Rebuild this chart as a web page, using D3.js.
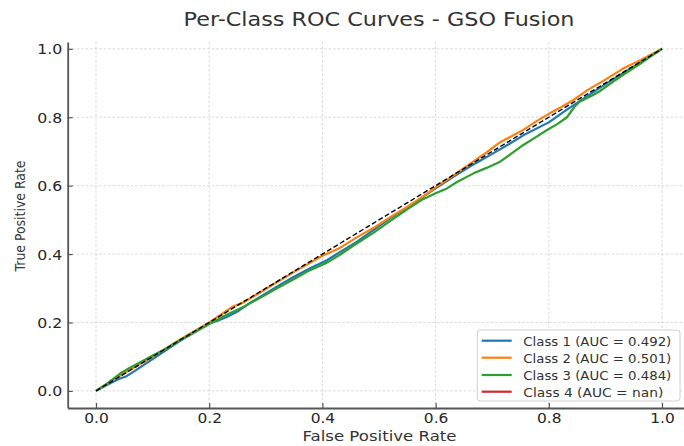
<!DOCTYPE html>
<html>
<head>
<meta charset="utf-8">
<script src="https://cdn.jsdelivr.net/npm/d3@7/dist/d3.min.js"></script>
<style>
  html, body { margin: 0; padding: 0; background: #fff; }
  svg { display: block; font-family: "DejaVu Sans", sans-serif; }
</style>
</head>
<body>
<svg id="chart" width="684" height="446"></svg>
<script>
// ---------- data ----------
const classNames = ["Class 1", "Class 2", "Class 3", "Class 4"];
const aucLabels = ["0.492", "0.501", "0.484", "nan"];
const seriesColors = ["#1f77b4", "#ff7f0e", "#2ca02c", "#d62728"];
const xTicks = [0, 0.2, 0.4, 0.6, 0.8, 1.0];
const yTicks = [0, 0.2, 0.4, 0.6, 0.8, 1.0];

const fpr1 = [0, 0.02, 0.04, 0.054, 0.07, 0.09, 0.12, 0.15, 0.2, 0.215, 0.231, 0.25, 0.27, 0.3, 0.33, 0.349, 0.38, 0.408, 0.43, 0.46, 0.49, 0.52, 0.549, 0.58, 0.6, 0.637, 0.67, 0.7, 0.73, 0.76, 0.8, 0.83, 0.85, 0.88, 0.92, 0.96, 1];
const tpr1 = [0, 0.018, 0.035, 0.043, 0.06, 0.082, 0.115, 0.148, 0.197, 0.205, 0.216, 0.232, 0.255, 0.285, 0.315, 0.333, 0.36, 0.382, 0.405, 0.435, 0.47, 0.505, 0.535, 0.57, 0.592, 0.632, 0.665, 0.693, 0.722, 0.752, 0.785, 0.82, 0.842, 0.875, 0.918, 0.958, 1];

const fpr2 = [0, 0.03, 0.06, 0.1, 0.15, 0.2, 0.22, 0.24, 0.26, 0.3, 0.35, 0.4, 0.431, 0.46, 0.49, 0.52, 0.549, 0.58, 0.6, 0.63, 0.66, 0.69, 0.714, 0.735, 0.755, 0.78, 0.8, 0.82, 0.845, 0.869, 0.9, 0.932, 0.96, 1];
const tpr2 = [0, 0.032, 0.062, 0.1, 0.152, 0.2, 0.222, 0.245, 0.258, 0.298, 0.348, 0.395, 0.418, 0.448, 0.476, 0.508, 0.537, 0.57, 0.595, 0.628, 0.663, 0.697, 0.727, 0.745, 0.763, 0.79, 0.81, 0.828, 0.852, 0.88, 0.91, 0.943, 0.965, 1];

const fpr3 = [0, 0.02, 0.042, 0.06, 0.08, 0.101, 0.12, 0.143, 0.17, 0.201, 0.23, 0.26, 0.29, 0.319, 0.35, 0.378, 0.408, 0.431, 0.455, 0.49, 0.52, 0.549, 0.575, 0.6, 0.62, 0.637, 0.667, 0.69, 0.714, 0.735, 0.755, 0.78, 0.799, 0.815, 0.832, 0.845, 0.855, 0.875, 0.89, 0.91, 0.932, 0.96, 0.98, 1];
const tpr3 = [0, 0.022, 0.05, 0.068, 0.085, 0.104, 0.12, 0.143, 0.168, 0.196, 0.222, 0.245, 0.272, 0.299, 0.327, 0.353, 0.375, 0.398, 0.425, 0.462, 0.497, 0.53, 0.558, 0.578, 0.592, 0.61, 0.636, 0.652, 0.67, 0.695, 0.719, 0.745, 0.765, 0.78, 0.8, 0.83, 0.846, 0.862, 0.876, 0.9, 0.925, 0.955, 0.978, 1];

// Class 4 has no valid curve (AUC = nan)
const fpr4 = [];
const tpr4 = [];

const diagX = [0, 1];
const diagY = [0, 1];

// ---------- layout ----------
const svg = d3.select("#chart");
const plotLeft = 67.7, plotRight = 690.3, plotTop = 42, plotBottom = 408;

const x = d3.scaleLinear().domain([-0.05, 1.05]).range([plotLeft, plotRight]);
const y = d3.scaleLinear().domain([-0.05, 1.02]).range([plotBottom, plotTop]);

// grid
const grid = svg.append("g");
grid.selectAll("line.gx").data(xTicks).join("line")
  .attr("x1", d => x(d)).attr("x2", d => x(d))
  .attr("y1", plotTop).attr("y2", plotBottom)
  .attr("stroke", "#cfcfcf").attr("stroke-width", 0.8).attr("stroke-dasharray", "2.5,2");
grid.selectAll("line.gy").data(yTicks).join("line")
  .attr("x1", plotLeft).attr("x2", plotRight)
  .attr("y1", d => y(d)).attr("y2", d => y(d))
  .attr("stroke", "#cfcfcf").attr("stroke-width", 0.8).attr("stroke-dasharray", "2.5,2");

// curves
const line = d3.line().x(d => x(d[0])).y(d => y(d[1]));
const series = [
  [fpr1, tpr1], [fpr2, tpr2], [fpr3, tpr3], [fpr4, tpr4]
];
series.forEach((s, i) => {
  const pts = d3.zip(s[0], s[1]);
  if (pts.length === 0) return;
  svg.append("path").datum(pts)
    .attr("d", line)
    .attr("fill", "none")
    .attr("stroke", seriesColors[i])
    .attr("stroke-width", 2.2)
    .attr("stroke-linejoin", "round");
});

// diagonal
svg.append("path").datum(d3.zip(diagX, diagY))
  .attr("d", line).attr("fill", "none")
  .attr("stroke", "#000").attr("stroke-width", 1.4)
  .attr("stroke-dasharray", "5,2.5");

// axes
const tickColor = "#262626";
const xAxis = d3.axisBottom(x).tickValues(xTicks).tickFormat(d3.format(".1f"))
  .tickSizeInner(-5).tickSizeOuter(0).tickPadding(10);
const yAxis = d3.axisLeft(y).tickValues(yTicks).tickFormat(d3.format(".1f"))
  .tickSizeInner(-5).tickSizeOuter(0).tickPadding(10);

const gx = svg.append("g").attr("transform", `translate(0,${plotBottom})`).call(xAxis);
const gy = svg.append("g").attr("transform", `translate(${plotLeft},0)`).call(yAxis);
[gx, gy].forEach(g => {
  g.select(".domain").attr("stroke", "#555").attr("stroke-width", 1.8);
  g.selectAll(".tick line").attr("stroke", "#555").attr("stroke-width", 1.2);
  g.selectAll(".tick text").attr("fill", tickColor)
    .style("font-size", "14px").style("font-family", "DejaVu Sans");
});
gx.selectAll(".tick text").attr("dy", null).attr("y", 15.3)
  .attr("textLength", 24.5).attr("lengthAdjust", "spacingAndGlyphs");
gy.selectAll(".tick text").attr("dy", "0.36em").attr("x", -5.5)
  .attr("textLength", 25).attr("lengthAdjust", "spacingAndGlyphs");

// title
svg.append("text")
  .attr("x", (plotLeft + plotRight) / 2).attr("y", 26)
  .attr("text-anchor", "middle")
  .attr("fill", "#333")
  .style("font-size", "19px")
  .attr("textLength", 391).attr("lengthAdjust", "spacingAndGlyphs")
  .text("Per-Class ROC Curves - GSO Fusion");

// axis labels
svg.append("text")
  .attr("x", 379.5).attr("y", 441)
  .attr("text-anchor", "middle").attr("fill", "#333")
  .style("font-size", "14.5px")
  .attr("textLength", 154).attr("lengthAdjust", "spacingAndGlyphs")
  .text("False Positive Rate");

svg.append("text")
  .attr("transform", "translate(25,216) rotate(-90)")
  .attr("text-anchor", "middle").attr("fill", "#333")
  .style("font-size", "14.5px")
  .attr("textLength", 111).attr("lengthAdjust", "spacingAndGlyphs")
  .text("True Positive Rate");

// legend
const legX = 477.3, legY = 330, legW = 202.7, legH = 71;
const leg = svg.append("g");
leg.append("rect")
  .attr("x", legX).attr("y", legY).attr("width", legW).attr("height", legH)
  .attr("rx", 3).attr("fill", "#fff").attr("fill-opacity", 0.85)
  .attr("stroke", "#d0d0d0").attr("stroke-width", 1);
const rowY = [340.7, 357.7, 375, 391.7];
const rowLen = [148, 148, 148, 140];
classNames.forEach((c, i) => {
  leg.append("line")
    .attr("x1", 481.7).attr("x2", 511.7)
    .attr("y1", rowY[i]).attr("y2", rowY[i])
    .attr("stroke", seriesColors[i]).attr("stroke-width", 2.2);
  leg.append("text")
    .attr("x", 523.3).attr("y", rowY[i] + 4.8)
    .attr("fill", "#333")
    .style("font-size", "13px")
    .attr("textLength", rowLen[i]).attr("lengthAdjust", "spacingAndGlyphs")
    .text(`${c} (AUC = ${aucLabels[i]})`);
});
</script>
</body>
</html>
